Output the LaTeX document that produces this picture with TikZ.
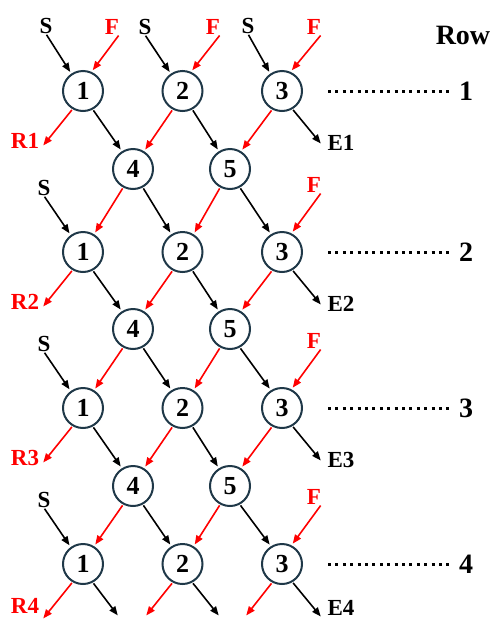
\documentclass[tikz,border=0pt]{standalone}
\usepackage{fontspec}
\setmainfont{Liberation Serif}
\usetikzlibrary{arrows.meta}
\definecolor{cline}{RGB}{31,56,72}
\definecolor{fred}{RGB}{255,0,0}
\begin{document}
\begin{tikzpicture}[x=1pt,y=-1pt,
  circ/.style={circle,draw=cline,line width=2pt,minimum size=40pt,inner sep=0pt,
    font=\fontsize{26}{26}\selectfont\bfseries},
  lab/.style={inner sep=0pt,font=\fontsize{23}{23}\selectfont\bfseries},
  rlab/.style={lab,text=fred},
  big/.style={inner sep=0pt,font=\fontsize{28}{28}\selectfont\bfseries},
  arr/.style={line width=1.6pt,-{Triangle[length=9pt,width=7pt]},shorten >=2pt,shorten <=1pt},
  blk/.style={arr,draw=black},
  rarr/.style={arr,draw=fred},
  rowdots/.style={line width=3pt,dash pattern=on 3pt off 4.4pt,shorten <=25pt,shorten >=10pt}
]
\useasboundingbox (0,0) rectangle (493,622);

% main rows
\foreach \i/\y/\ly in {1/91/141,2/252/302,3/408/458,4/564/606}{
  \node[circ] (n\i1) at (83,\y) {1};
  \node[circ] (n\i2) at (182.5,\y) {2};
  \node[circ] (n\i3) at (282,\y) {3};
  \node[big] (rl\i) at (466,\y) {\i};
  \draw[rowdots] (n\i3) -- (rl\i);
  \coordinate (tR\i) at (42,\y+56);
  \coordinate (tE\i) at (322,\y+54);
  \node[rlab] (R\i) at (25,\ly) {R\i};
  \node[lab] (E\i) at (341,\ly+2) {E\i};
  \draw[rarr] (n\i1.-120) -- (tR\i);
  \draw[blk] (n\i3.-60) -- (tE\i);
}
% middle rows
\foreach \i/\y in {1/169,2/329,3/486}{
  \node[circ] (m\i4) at (133,\y) {4};
  \node[circ] (m\i5) at (230,\y) {5};
}
\node[big] (rowlab) at (463,35) {Row};

% row -> middle
\foreach \i in {1,2,3}{
  \draw[blk]  (n\i1.-62)  -- (m\i4.122);
  \draw[rarr] (n\i2.-118) -- (m\i4.58);
  \draw[blk]  (n\i2.-62)  -- (m\i5.122);
  \draw[rarr] (n\i3.-118) -- (m\i5.58);
}
% middle -> next row
\foreach \i/\j in {1/2,2/3,3/4}{
  \draw[rarr] (m\i4.-118) -- (n\j1.58);
  \draw[blk]  (m\i4.-62)  -- (n\j2.122);
  \draw[rarr] (m\i5.-118) -- (n\j2.58);
  \draw[blk]  (m\i5.-62)  -- (n\j3.122);
}
% bottom free ends
\coordinate (b1) at (119,617);
\coordinate (b2) at (145,617);
\coordinate (b3) at (220,617);
\coordinate (b4) at (245,617);
\draw[blk]  (n41.-62)  -- (b1);
\draw[rarr] (n42.-118) -- (b2);
\draw[blk]  (n42.-62)  -- (b3);
\draw[rarr] (n43.-118) -- (b4);

% inputs, row 1
\node[lab]  (S11) at (46,26) {S};
\node[rlab] (F11) at (112,27) {F};
\node[lab]  (S12) at (145,27) {S};
\node[rlab] (F12) at (213,27) {F};
\node[lab]  (S13) at (248,26) {S};
\node[rlab] (F13) at (314,27) {F};
\draw[blk]  (S11.south) -- (n11.124);
\draw[rarr] (F11.south east) -- (n11.66);
\draw[blk]  (S12.south) -- (n12.124);
\draw[rarr] (F12.south east) -- (n12.66);
\draw[blk]  (S13.south) -- (n13.124);
\draw[rarr] (F13.south east) -- (n13.66);
% inputs, rows 2-4
\foreach \i/\y in {2/252,3/408,4/564}{
  \node[lab]  (S\i) at (44,\y-64) {S};
  \node[rlab] (F\i) at (314,\y-67) {F};
  \draw[blk]  (S\i.south) -- (n\i1.126);
  \draw[rarr] (F\i.south east) -- (n\i3.63);
}
\end{tikzpicture}
\end{document}
